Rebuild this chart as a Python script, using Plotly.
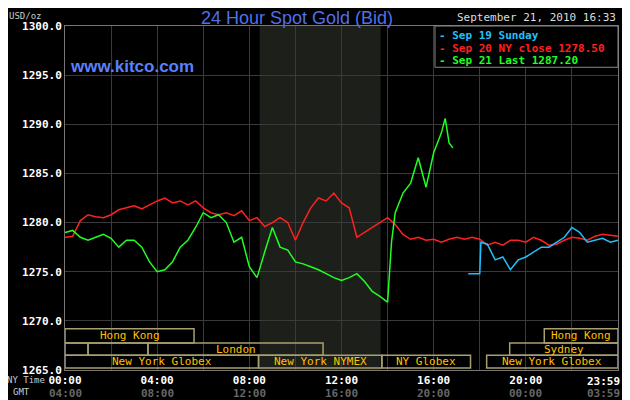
import plotly.graph_objects as go

# hours since 00:00 NY time, sampled every 20 minutes
red_hours = [i / 3 for i in range(73)]
red_vals = [1278.5, 1278.6, 1280.2, 1280.8, 1280.6, 1280.5, 1280.8, 1281.3, 1281.5, 1281.7, 1281.4, 1281.8,
            1282.2, 1282.5, 1282.0, 1282.2, 1281.8, 1282.2, 1281.5, 1281.0, 1280.8, 1281.0, 1280.7, 1281.2,
            1280.2, 1280.5, 1279.6, 1280.0, 1280.5, 1280.0, 1278.2, 1280.0, 1281.5, 1282.5, 1282.2, 1283.0,
            1282.0, 1281.5, 1278.5, 1279.0, 1279.5, 1280.0, 1280.5, 1279.8, 1278.8, 1278.3, 1278.5, 1278.2,
            1278.3, 1278.0, 1278.3, 1278.5, 1278.3, 1278.5, 1278.3, 1277.7, 1278.0, 1277.7, 1278.2, 1278.2,
            1278.0, 1278.5, 1278.2, 1277.7, 1277.8, 1278.2, 1278.5, 1278.4, 1278.2, 1278.6, 1278.8, 1278.7, 1278.6]

green_hours = [i / 3 for i in range(43)] + [14.17, 14.33, 14.67, 15.0, 15.33, 15.67, 16.0, 16.33, 16.5, 16.67, 16.83]
green_vals = [1279.0, 1279.2, 1278.5, 1278.2, 1278.5, 1278.8, 1278.4, 1277.5, 1278.2, 1278.2, 1277.5, 1276.0,
              1275.0, 1275.2, 1276.0, 1277.5, 1278.2, 1279.5, 1281.0, 1280.5, 1280.8, 1280.0, 1278.0, 1278.5,
              1275.5, 1274.4, 1277.0, 1279.5, 1277.5, 1277.2, 1276.0, 1275.8, 1275.5, 1275.2, 1274.8, 1274.4,
              1274.1, 1274.4, 1274.8, 1274.0, 1273.0, 1272.5, 1271.9,
              1278.0, 1281.0, 1283.0, 1284.0, 1286.6, 1283.6, 1287.1, 1289.1, 1290.6, 1288.1, 1287.6]

cyan_hours = [17.5, 18.0, 18.05, 18.33, 18.67, 19.0, 19.33, 19.67, 20.0, 20.33, 20.67, 21.0, 21.33, 21.67,
              22.0, 22.33, 22.67, 23.0, 23.33, 23.67, 24.0]
cyan_vals = [1274.8, 1274.8, 1278.0, 1277.8, 1276.2, 1276.5, 1275.2, 1276.2, 1276.5, 1277.0, 1277.5, 1277.5,
             1278.0, 1278.5, 1279.5, 1279.0, 1278.0, 1278.2, 1278.4, 1278.0, 1278.2]

ny_ticks = ["00:00", "04:00", "08:00", "12:00", "16:00", "20:00", "23:59"]
gmt_ticks = ["04:00", "08:00", "12:00", "16:00", "20:00", "00:00", "03:59"]
tick_hours = [0, 4, 8, 12, 16, 20, 24]

# trading sessions: (start, end, row, label)
sessions = [(0, 5.6, 0, "Hong Kong"), (20.8, 24, 0, "Hong Kong"),
            (0, 1, 1, ""), (1, 3.6, 1, ""), (3.6, 11.2, 1, "London"), (19.3, 24, 1, "Sydney"),
            (0, 8.4, 2, "New York Globex"), (8.4, 13.75, 2, "New York NYMEX"),
            (13.75, 17.6, 2, "NY Globex"), (18.3, 24, 2, "New York Globex")]
row_edges = [(1267.75, 1269.2), (1266.5, 1267.75), (1265.2, 1266.5)]

mono = "DejaVu Sans Mono"
fig = go.Figure()
fig.add_trace(go.Scatter(x=red_hours, y=red_vals, mode="lines", line=dict(color="#ff2020", width=1.5)))
fig.add_trace(go.Scatter(x=green_hours, y=green_vals, mode="lines", line=dict(color="#20ff20", width=1.5)))
fig.add_trace(go.Scatter(x=cyan_hours, y=cyan_vals, mode="lines", line=dict(color="#20c0ff", width=1.5)))

# NYMEX shading
fig.add_shape(type="rect", x0=8.45, x1=13.7, y0=1265, y1=1300, fillcolor="#1c1f1a", line_width=0, layer="below")

for s, e, r, lab in sessions:
    lo, hi = row_edges[r]
    fig.add_shape(type="rect", x0=s, x1=e, y0=lo, y1=hi, line=dict(color="#a8a070", width=1.5))
    if lab:
        fig.add_annotation(x=(s + e) / 2, y=(lo + hi) / 2, text=lab, showarrow=False,
                           font=dict(family=mono, size=11, color="#ffc000"))

# last NY tick label sits inside the plot edge
fig.add_annotation(x=24, y=0, yref="paper", yanchor="top", yshift=-3, xanchor="right", xshift=4,
                   text=ny_ticks[-1], showarrow=False,
                   font=dict(family=mono, size=11, color="#ffffff", weight="bold"))
for h, t in zip(tick_hours, gmt_ticks):
    anchor = "right" if h == 24 else "center"
    fig.add_annotation(x=h, y=0, yref="paper", yanchor="top", yshift=-15, xanchor=anchor,
                       xshift=4 if h == 24 else 0, text=t, showarrow=False,
                       font=dict(family=mono, size=11, color="#666666", weight="bold"))
fig.add_annotation(x=0, xref="paper", xshift=-18, xanchor="right", y=0, yref="paper", yanchor="top", yshift=-3,
                   text="NY Time", showarrow=False, font=dict(family=mono, size=9, color="#cccccc"))
fig.add_annotation(x=0, xref="paper", xshift=-33, xanchor="right", y=0, yref="paper", yanchor="top", yshift=-15,
                   text="GMT", showarrow=False, font=dict(family=mono, size=9, color="#cccccc"))
fig.add_annotation(x=0, xref="paper", xshift=-58, xanchor="left", y=1, yref="paper", yanchor="bottom", yshift=3,
                   text="USD/oz", showarrow=False, font=dict(family=mono, size=9, color="#cccccc"))

fig.add_annotation(x=0.5, xref="paper", y=1, yref="paper", yanchor="bottom", yshift=-4, xshift=-45,
                   text="24 Hour Spot Gold (Bid)", showarrow=False,
                   font=dict(family="Liberation Sans", size=18, color="#5070e8"))
fig.add_annotation(x=0.005, xref="paper", y=0.917, yref="paper", text="www.kitco.com", showarrow=False,
                   xanchor="left", font=dict(family="Liberation Sans", size=17, color="#5a80ff", weight="bold"))
fig.add_annotation(x=1, xref="paper", y=1, yref="paper", yanchor="bottom", xanchor="right",
                   text="September 21, 2010 16:33", showarrow=False,
                   font=dict(family=mono, size=11, color="#dddddd"))

# legend box
fig.add_shape(type="rect", xref="paper", yref="paper", x0=0.669, x1=1.0, y0=0.88, y1=1.0,
              line=dict(color="#888888", width=1), fillcolor="black")
legend = [("#20c0ff", "- Sep 19 Sunday"), ("#ff2020", "- Sep 20 NY close 1278.50"),
          ("#20ff20", "- Sep 21 Last 1287.20")]
for i, (c, t) in enumerate(legend):
    fig.add_annotation(x=0.672, xref="paper", y=0.997 - i * 0.037, yref="paper", xanchor="left", yanchor="top",
                       text=t, showarrow=False, font=dict(family=mono, size=11, color=c, weight="bold"))

fig.update_layout(
    width=630, height=400, margin=dict(l=57, r=20, t=12, b=38),
    paper_bgcolor="black", plot_bgcolor="black", showlegend=False,
    xaxis=dict(range=[0, 24], tickvals=list(range(0, 25, 2)),
               ticktext=[ny_ticks[i // 2] if i % 2 == 0 and i < 12 else "" for i in range(13)],
               gridcolor="#3a3a3a", showline=True, linecolor="#777777", mirror=True, zeroline=False,
               tickfont=dict(family=mono, size=11, color="#ffffff", weight="bold")),
    yaxis=dict(range=[1265, 1300], dtick=5, tickformat=".1f", gridcolor="#3a3a3a",
               showline=True, linecolor="#777777", mirror=True, zeroline=False,
               tickfont=dict(family=mono, size=11, color="#ffffff", weight="bold")),
)

fig.write_html("out.html")
